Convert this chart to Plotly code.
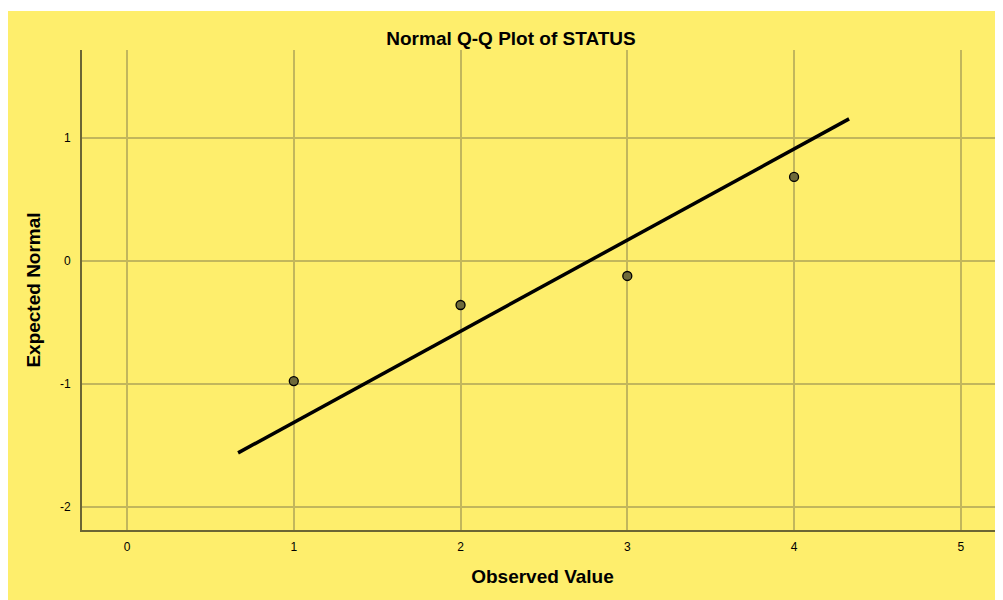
import plotly.graph_objects as go

# Data
observed = [1, 2, 3, 4]
expected_normal = [-0.976, -0.358, -0.122, 0.683]
line_x = [0.666, 4.33]
line_y = [-1.56, 1.155]
x_ticks = [0, 1, 2, 3, 4, 5]
y_ticks = [-2, -1, 0, 1]
y_tick_text = ["-2", "-1", "0", "1"]

YELLOW = "#FEEE6C"
GRID = "#C2B65C"
AXIS = "#6B6534"
FONT = "Liberation Sans, Arial, sans-serif"

fig = go.Figure()
fig.add_trace(go.Scatter(
    x=line_x, y=line_y, mode="lines",
    line=dict(color="black", width=3.5), showlegend=False, hoverinfo="skip"))
fig.add_trace(go.Scatter(
    x=observed, y=expected_normal, mode="markers",
    marker=dict(size=9, color="#6E6A3A", line=dict(color="black", width=1.3)),
    showlegend=False))

# page body adds an 8px offset; compensate so screen positions match
OFF = 8
L, R, T, B = 82 - OFF, 0, 50 - OFF, 70
W, H = 1003 - OFF, 600 - OFF
pw, ph = W - L - R, H - T - B

fig.add_shape(type="rect", xref="paper", yref="paper",
              x0=(7 - OFF - L) / pw - 0.002, x1=1.02,
              y0=-(B + 5) / ph, y1=(H - B - (11 - OFF)) / ph,
              fillcolor=YELLOW, line=dict(width=0), layer="below")

fig.update_layout(
    width=W, height=H,
    margin=dict(l=L, r=R, t=T, b=B),
    paper_bgcolor="white", plot_bgcolor="rgba(0,0,0,0)",
    font=dict(family=FONT, color="black", size=12),
    title=dict(text="<b>Normal Q-Q Plot of STATUS</b>", x=(511 - OFF) / W, xanchor="center",
               xref="container", yref="container", y=1 - (38 - OFF) / H, yanchor="middle",
               font=dict(size=19, family=FONT)),
    xaxis=dict(range=[-0.27, 5.253], tickvals=x_ticks, showgrid=True, gridcolor=GRID,
               gridwidth=1.5, zeroline=False, showline=True, linecolor=AXIS, linewidth=2,
               ticks="", ticklabelstandoff=5,
               title=dict(text="<b>Observed Value</b>", font=dict(size=19, family=FONT), standoff=16)),
    yaxis=dict(range=[-2.187, 1.715], tickvals=y_ticks, ticktext=y_tick_text, showgrid=True,
               gridcolor=GRID, gridwidth=1.5, zeroline=False, showline=True, linecolor=AXIS,
               linewidth=2, ticks="", ticklabelstandoff=7,
               title=dict(text="<b>Expected Normal</b>", font=dict(size=19, family=FONT), standoff=14)),
)

fig.write_html("out.html")
